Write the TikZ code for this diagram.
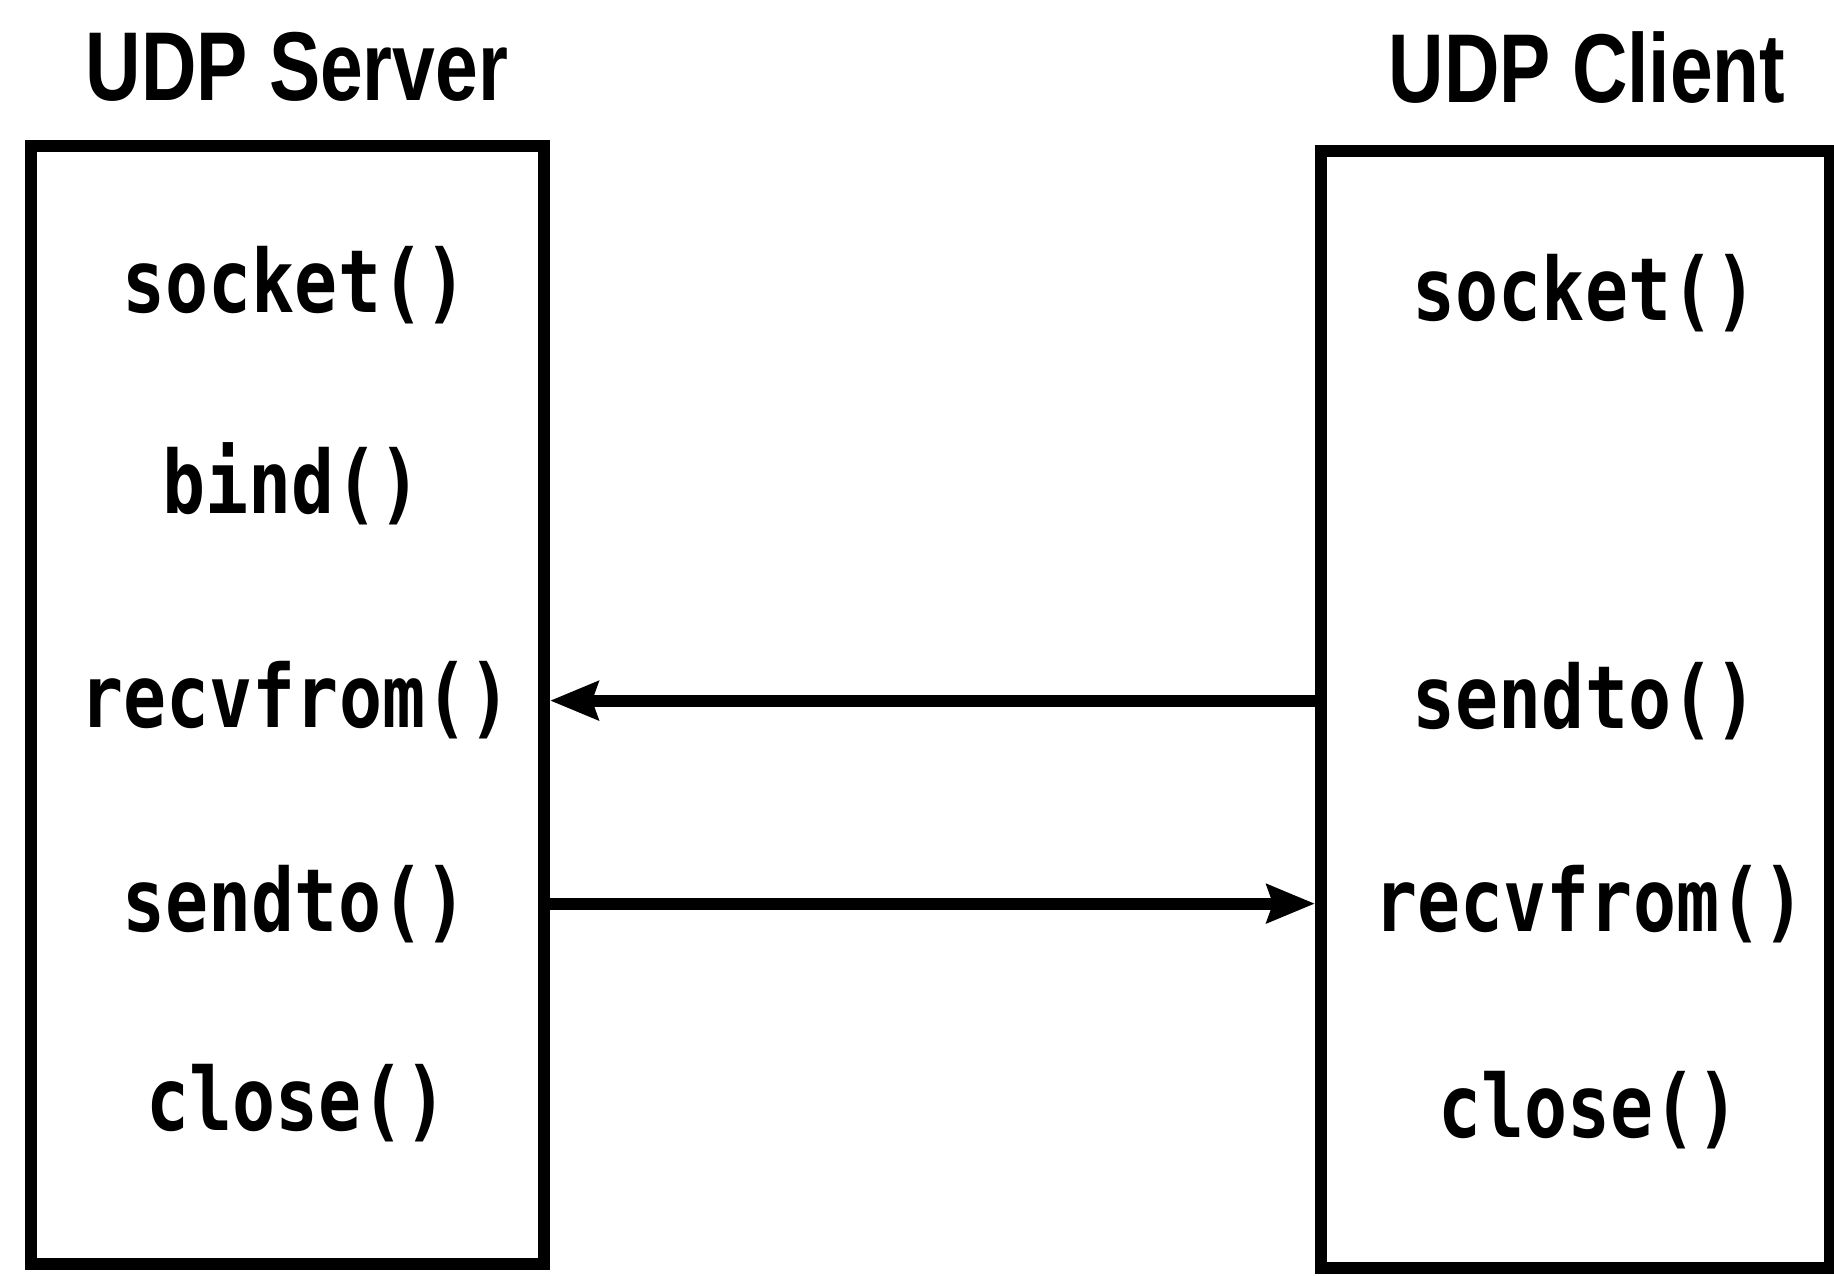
\documentclass[tikz,border=0pt]{standalone}
\usepackage{fontspec}
\usetikzlibrary{arrows.meta}
\newfontfamily\codefont{DejaVu Sans Mono}
\newfontfamily\headfont{Liberation Sans}
\newcommand{\codetxt}[1]{\scalebox{1}[1.22]{\codefont\bfseries\fontsize{71.5}{80}\selectfont #1}}
\newcommand{\headtxt}[1]{\scalebox{0.785}[1]{\headfont\bfseries\fontsize{97.8}{110}\selectfont #1}}
\begin{document}
\begin{tikzpicture}[x=1pt,y=-1pt,
  box/.style={draw, line width=12pt, inner sep=0pt},
  code/.style={anchor=base, inner sep=0pt},
  head/.style={anchor=base, inner sep=0pt},
  arr/.style={line width=12pt, -{Stealth[length=48pt,width=38pt,inset=6pt]}}]
\fill[white] (0,0) rectangle (1834,1275);
\useasboundingbox (0,0) rectangle (1834,1275);
% titles
\node[head] (stitle) at (297,100) {\headtxt{UDP Server}};
\node[head] (ctitle) at (1587,102) {\headtxt{UDP Client}};
% boxes
\node[box, minimum width=513pt, minimum height=1118pt] (srv) at (287.5,705) {};
\node[box, minimum width=509pt, minimum height=1117pt] (cli) at (1575.5,709.5) {};
% server calls
\node[code] (ssock) at (295,312) {\codetxt{socket()}};
\node[code] (sbind) at (292,513) {\codetxt{bind()}};
\node[code] (srecv) at (296,727) {\codetxt{recvfrom()}};
\node[code] (ssend) at (295,931) {\codetxt{sendto()}};
\node[code] (sclose) at (297,1130) {\codetxt{close()}};
% client calls
\node[code] (csock) at (1585,320) {\codetxt{socket()}};
\node[code] (csend) at (1585,728) {\codetxt{sendto()}};
\node[code] (crecv) at (1590,931) {\codetxt{recvfrom()}};
\node[code] (cclose) at (1589,1137) {\codetxt{close()}};
% messages
\draw[arr] (cli.west |- csend) -- (srv.east |- csend);
\draw[arr] (srv.east |- ssend) -- (cli.west |- ssend);
\end{tikzpicture}
\end{document}
